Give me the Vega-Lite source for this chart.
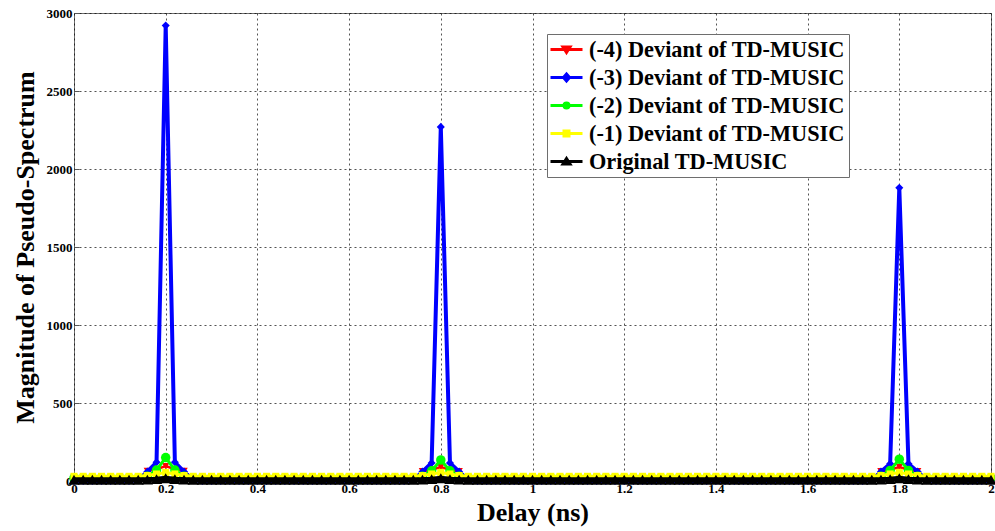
{
  "$schema": "https://vega.github.io/schema/vega-lite/v6.json",
  "width": 917,
  "height": 468,
  "autosize": {"type": "none"},
  "padding": {"left": 74, "top": 13, "right": 4, "bottom": 50},
  "background": "white",
  "config": {
    "view": {"stroke": "#6e6e6e", "strokeWidth": 1},
    "axis": {
      "labelFont": "Liberation Serif",
      "labelFontWeight": "bold",
      "labelFontSize": 13,
      "labelColor": "#000",
      "titleFont": "Liberation Serif",
      "titleFontWeight": "bold",
      "titleFontSize": 26,
      "titleColor": "#000",
      "domain": false,
      "tickColor": "#555",
      "tickSize": -5,
      "gridColor": "#000",
      "gridDash": [2, 3],
      "gridWidth": 0.8,
      "gridOpacity": 0.85
    }
  },
  "data": {
    "values": [
      {"x":0,"r":10,"b":0,"g":20,"y":30,"k":8},
      {"x":0.02,"r":10,"b":0,"g":20,"y":30,"k":8},
      {"x":0.04,"r":10,"b":0,"g":20,"y":30,"k":8},
      {"x":0.06,"r":10,"b":0,"g":20,"y":30,"k":8},
      {"x":0.08,"r":10,"b":0,"g":20,"y":30,"k":8},
      {"x":0.1,"r":10,"b":0,"g":20,"y":30,"k":8},
      {"x":0.12,"r":10,"b":0,"g":20,"y":30,"k":8},
      {"x":0.14,"r":10,"b":5,"g":20,"y":30,"k":8},
      {"x":0.16,"r":65,"b":60,"g":30,"y":35,"k":9},
      {"x":0.18,"r":75,"b":120,"g":70,"y":45,"k":12},
      {"x":0.2,"r":95,"b":2920,"g":150,"y":55,"k":18},
      {"x":0.22,"r":75,"b":120,"g":70,"y":45,"k":12},
      {"x":0.24,"r":65,"b":60,"g":30,"y":35,"k":9},
      {"x":0.26,"r":10,"b":5,"g":20,"y":30,"k":8},
      {"x":0.28,"r":10,"b":0,"g":20,"y":30,"k":8},
      {"x":0.3,"r":10,"b":0,"g":20,"y":30,"k":8},
      {"x":0.32,"r":10,"b":0,"g":20,"y":30,"k":8},
      {"x":0.34,"r":10,"b":0,"g":20,"y":30,"k":8},
      {"x":0.36,"r":10,"b":0,"g":20,"y":30,"k":8},
      {"x":0.38,"r":10,"b":0,"g":20,"y":30,"k":8},
      {"x":0.4,"r":10,"b":0,"g":20,"y":30,"k":8},
      {"x":0.42,"r":10,"b":0,"g":20,"y":30,"k":8},
      {"x":0.44,"r":10,"b":0,"g":20,"y":30,"k":8},
      {"x":0.46,"r":10,"b":0,"g":20,"y":30,"k":8},
      {"x":0.48,"r":10,"b":0,"g":20,"y":30,"k":8},
      {"x":0.5,"r":10,"b":0,"g":20,"y":30,"k":8},
      {"x":0.52,"r":10,"b":0,"g":20,"y":30,"k":8},
      {"x":0.54,"r":10,"b":0,"g":20,"y":30,"k":8},
      {"x":0.56,"r":10,"b":0,"g":20,"y":30,"k":8},
      {"x":0.58,"r":10,"b":0,"g":20,"y":30,"k":8},
      {"x":0.6,"r":10,"b":0,"g":20,"y":30,"k":8},
      {"x":0.62,"r":10,"b":0,"g":20,"y":30,"k":8},
      {"x":0.64,"r":10,"b":0,"g":20,"y":30,"k":8},
      {"x":0.66,"r":10,"b":0,"g":20,"y":30,"k":8},
      {"x":0.68,"r":10,"b":0,"g":20,"y":30,"k":8},
      {"x":0.7,"r":10,"b":0,"g":20,"y":30,"k":8},
      {"x":0.72,"r":10,"b":0,"g":20,"y":30,"k":8},
      {"x":0.74,"r":10,"b":5,"g":20,"y":30,"k":8},
      {"x":0.76,"r":62,"b":60,"g":30,"y":35,"k":9},
      {"x":0.78,"r":72,"b":115,"g":65,"y":45,"k":12},
      {"x":0.8,"r":90,"b":2270,"g":135,"y":55,"k":18},
      {"x":0.82,"r":72,"b":115,"g":65,"y":45,"k":12},
      {"x":0.84,"r":62,"b":60,"g":30,"y":35,"k":9},
      {"x":0.86,"r":10,"b":5,"g":20,"y":30,"k":8},
      {"x":0.88,"r":10,"b":0,"g":20,"y":30,"k":8},
      {"x":0.9,"r":10,"b":0,"g":20,"y":30,"k":8},
      {"x":0.92,"r":10,"b":0,"g":20,"y":30,"k":8},
      {"x":0.94,"r":10,"b":0,"g":20,"y":30,"k":8},
      {"x":0.96,"r":10,"b":0,"g":20,"y":30,"k":8},
      {"x":0.98,"r":10,"b":0,"g":20,"y":30,"k":8},
      {"x":1,"r":10,"b":0,"g":20,"y":30,"k":8},
      {"x":1.02,"r":10,"b":0,"g":20,"y":30,"k":8},
      {"x":1.04,"r":10,"b":0,"g":20,"y":30,"k":8},
      {"x":1.06,"r":10,"b":0,"g":20,"y":30,"k":8},
      {"x":1.08,"r":10,"b":0,"g":20,"y":30,"k":8},
      {"x":1.1,"r":10,"b":0,"g":20,"y":30,"k":8},
      {"x":1.12,"r":10,"b":0,"g":20,"y":30,"k":8},
      {"x":1.14,"r":10,"b":0,"g":20,"y":30,"k":8},
      {"x":1.16,"r":10,"b":0,"g":20,"y":30,"k":8},
      {"x":1.18,"r":10,"b":0,"g":20,"y":30,"k":8},
      {"x":1.2,"r":10,"b":0,"g":20,"y":30,"k":8},
      {"x":1.22,"r":10,"b":0,"g":20,"y":30,"k":8},
      {"x":1.24,"r":10,"b":0,"g":20,"y":30,"k":8},
      {"x":1.26,"r":10,"b":0,"g":20,"y":30,"k":8},
      {"x":1.28,"r":10,"b":0,"g":20,"y":30,"k":8},
      {"x":1.3,"r":10,"b":0,"g":20,"y":30,"k":8},
      {"x":1.32,"r":10,"b":0,"g":20,"y":30,"k":8},
      {"x":1.34,"r":10,"b":0,"g":20,"y":30,"k":8},
      {"x":1.36,"r":10,"b":0,"g":20,"y":30,"k":8},
      {"x":1.38,"r":10,"b":0,"g":20,"y":30,"k":8},
      {"x":1.4,"r":10,"b":0,"g":20,"y":30,"k":8},
      {"x":1.42,"r":10,"b":0,"g":20,"y":30,"k":8},
      {"x":1.44,"r":10,"b":0,"g":20,"y":30,"k":8},
      {"x":1.46,"r":10,"b":0,"g":20,"y":30,"k":8},
      {"x":1.48,"r":10,"b":0,"g":20,"y":30,"k":8},
      {"x":1.5,"r":10,"b":0,"g":20,"y":30,"k":8},
      {"x":1.52,"r":10,"b":0,"g":20,"y":30,"k":8},
      {"x":1.54,"r":10,"b":0,"g":20,"y":30,"k":8},
      {"x":1.56,"r":10,"b":0,"g":20,"y":30,"k":8},
      {"x":1.58,"r":10,"b":0,"g":20,"y":30,"k":8},
      {"x":1.6,"r":10,"b":0,"g":20,"y":30,"k":8},
      {"x":1.62,"r":10,"b":0,"g":20,"y":30,"k":8},
      {"x":1.64,"r":10,"b":0,"g":20,"y":30,"k":8},
      {"x":1.66,"r":10,"b":0,"g":20,"y":30,"k":8},
      {"x":1.68,"r":10,"b":0,"g":20,"y":30,"k":8},
      {"x":1.7,"r":10,"b":0,"g":20,"y":30,"k":8},
      {"x":1.72,"r":10,"b":0,"g":20,"y":30,"k":8},
      {"x":1.74,"r":10,"b":5,"g":20,"y":30,"k":8},
      {"x":1.76,"r":62,"b":60,"g":30,"y":35,"k":9},
      {"x":1.78,"r":72,"b":110,"g":68,"y":45,"k":12},
      {"x":1.8,"r":90,"b":1880,"g":140,"y":55,"k":18},
      {"x":1.82,"r":72,"b":110,"g":68,"y":45,"k":12},
      {"x":1.84,"r":62,"b":60,"g":30,"y":35,"k":9},
      {"x":1.86,"r":10,"b":5,"g":20,"y":30,"k":8},
      {"x":1.88,"r":10,"b":0,"g":20,"y":30,"k":8},
      {"x":1.9,"r":10,"b":0,"g":20,"y":30,"k":8},
      {"x":1.92,"r":10,"b":0,"g":20,"y":30,"k":8},
      {"x":1.94,"r":10,"b":0,"g":20,"y":30,"k":8},
      {"x":1.96,"r":10,"b":0,"g":20,"y":30,"k":8},
      {"x":1.98,"r":10,"b":0,"g":20,"y":30,"k":8},
      {"x":2,"r":10,"b":0,"g":20,"y":30,"k":8}
    ]
  },
  "transform": [{"fold": ["r", "b", "g", "y", "k"], "as": ["s", "v"]}],
  "encoding": {
    "x": {
      "field": "x",
      "type": "quantitative",
      "scale": {"domain": [0, 2], "nice": false, "zero": false},
      "axis": {
        "title": "Delay (ns)",
        "values": [0, 0.2, 0.4, 0.6, 0.8, 1, 1.2, 1.4, 1.6, 1.8, 2],
        "format": ".1~f",
        "labelPadding": 6,
        "titlePadding": 4,
        "labelFlush": false
      }
    },
    "y": {
      "field": "v",
      "type": "quantitative",
      "scale": {"domain": [0, 3000], "nice": false},
      "axis": {
        "title": "Magnitude of Pseudo-Spectrum",
        "values": [0, 500, 1000, 1500, 2000, 2500, 3000],
        "format": "d",
        "labelPadding": 7,
        "titlePadding": 8
      }
    },
    "color": {
      "field": "s",
      "type": "nominal",
      "scale": {
        "domain": ["r", "b", "g", "y", "k"],
        "range": ["#ff0000", "#0000ff", "#00ff00", "#ffff00", "#000000"]
      },
      "legend": {
        "title": null,
        "orient": "none",
        "legendX": 473,
        "legendY": 21,
        "fillColor": "#ffffff",
        "strokeColor": "#6e6e6e",
        "padding": 4,
        "cornerRadius": 0,
        "rowPadding": 5,
        "symbolSize": 400,
        "symbolStrokeWidth": 3,
        "symbolOpacity": 1,
        "symbolOffset": 4,
        "symbolType": {"expr": "datum.value === 'r' ? 'M-1.6,0H1.6M-0.35,-0.25H0.35L0,0.3Z' : datum.value === 'b' ? 'M-1.6,0H1.6M0,-0.35L0.3,0L0,0.35L-0.3,0Z' : datum.value === 'g' ? 'M-1.6,0H1.6M-0.25,0A0.25,0.25,0,1,0,0.25,0A0.25,0.25,0,1,0,-0.25,0Z' : datum.value === 'y' ? 'M-1.6,0H1.6M-0.25,-0.25H0.25V0.25H-0.25Z' : 'M-1.6,0H1.6M-0.35,0.25H0.35L0,-0.3Z'"},
        "symbolFillColor": {"expr": "scale('color', datum.value)"},
        "symbolStrokeColor": {"expr": "scale('color', datum.value)"},
        "labelOffset": 11,
        "labelFont": "Liberation Serif",
        "labelFontWeight": "bold",
        "labelFontSize": 22.3,
        "labelColor": "#000",
        "labelLimit": 400,
        "labelExpr": "datum.value === 'r' ? '(-4) Deviant of TD-MUSIC' : datum.value === 'b' ? '(-3) Deviant of TD-MUSIC' : datum.value === 'g' ? '(-2) Deviant of TD-MUSIC' : datum.value === 'y' ? '(-1) Deviant of TD-MUSIC' : 'Original TD-MUSIC'"
      }
    }
  },
  "layer": [
    {
      "transform": [{"filter": "datum.s === 'r'"}],
      "mark": {"type": "line", "strokeWidth": 2.5, "point": {"filled": true, "shape": "triangle-down", "size": 55, "opacity": 1}}
    },
    {
      "transform": [{"filter": "datum.s === 'b'"}],
      "mark": {"type": "line", "strokeWidth": 4, "point": {"filled": true, "shape": "diamond", "size": 65, "opacity": 1}}
    },
    {
      "transform": [{"filter": "datum.s === 'g'"}],
      "mark": {"type": "line", "strokeWidth": 3, "point": {"filled": true, "shape": "circle", "size": 90, "opacity": 1}}
    },
    {
      "transform": [{"filter": "datum.s === 'y'"}],
      "mark": {"type": "line", "strokeWidth": 3, "point": {"filled": true, "shape": "square", "size": 50, "opacity": 1}}
    },
    {
      "transform": [{"filter": "datum.s === 'k'"}],
      "mark": {"type": "line", "strokeWidth": 5, "point": {"filled": true, "shape": "triangle-up", "size": 130, "opacity": 1}}
    }
  ]
}
